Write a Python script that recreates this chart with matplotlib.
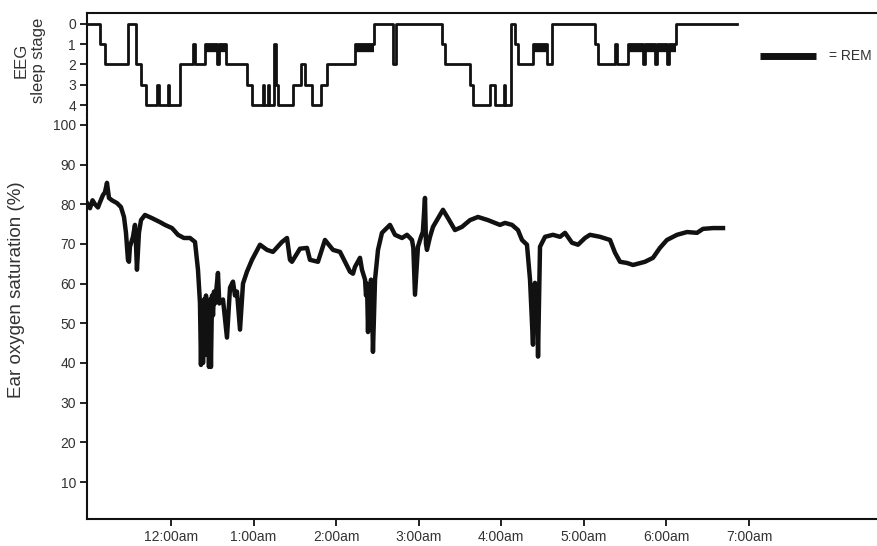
import matplotlib
matplotlib.use("Agg")
from matplotlib import pyplot
from matplotlib.lines import Line2D

pyplot.rcParams["font.family"] = ["Liberation Sans", "DejaVu Sans"]

# Hours relative to midnight
hour_ticks = [0, 1, 2, 3, 4, 5, 6, 7]
hour_labels = ["12:00am", "1:00am", "2:00am", "3:00am", "4:00am", "5:00am", "6:00am", "7:00am"]

# Hypnogram: stage changes (step function)
hyp_time = [-1.017, -0.86, -0.80, -0.52, -0.42, -0.36, -0.30, -0.17, -0.15, -0.04,
            -0.02, 0.11, 0.27, 0.29, 0.41, 0.56, 0.58, 0.67, 0.92, 0.98,
            1.11, 1.13, 1.17, 1.19, 1.25, 1.27, 1.30, 1.48, 1.58, 1.62,
            1.71, 1.82, 1.89, 2.23, 2.46, 2.69, 2.73, 3.28, 3.32, 3.62,
            3.66, 3.86, 3.92, 4.03, 4.05, 4.12, 4.17, 4.20, 4.38, 4.55,
            4.62, 5.13, 5.17, 5.38, 5.40, 5.53, 5.72, 5.74, 5.86, 5.88,
            6.01, 6.03, 6.12, 6.85]
hyp_stage = [0, 1, 2, 0, 2, 3, 4, 3, 4, 3,
             4, 2, 1, 2, 1, 2, 1, 2, 3, 4,
             3, 4, 3, 4, 1, 3, 4, 3, 2, 3,
             4, 3, 2, 1, 0, 2, 0, 1, 2, 3,
             4, 3, 4, 3, 4, 0, 1, 2, 1, 2,
             0, 1, 2, 1, 2, 1, 2, 1, 2, 1,
             2, 1, 0, 0]

# REM periods
rem_start = [0.41, 2.23, 4.38, 5.53]
rem_end = [0.67, 2.46, 4.55, 6.12]

# Ear oxygen saturation (%)
sat_time = [-1.017, -0.981, -0.95, -0.920, -0.884, -0.860, -0.824, -0.80, -0.775, -0.751,
            -0.715, -0.654, -0.606, -0.569, -0.545, -0.521, -0.509, -0.497, -0.460, -0.436,
            -0.424, -0.412, -0.388, -0.363, -0.315, -0.230, -0.133, -0.073, 0.012, 0.085,
            0.157, 0.230, 0.291, 0.327, 0.351, 0.363, 0.375, 0.388, 0.400, 0.412,
            0.424, 0.436, 0.448, 0.460, 0.472, 0.484, 0.497, 0.509, 0.521, 0.533,
            0.569, 0.585, 0.630, 0.678, 0.715, 0.751, 0.775, 0.799, 0.836, 0.872,
            0.920, 0.981, 1.078, 1.163, 1.235, 1.344, 1.405, 1.441, 1.465, 1.562,
            1.647, 1.683, 1.780, 1.865, 1.962, 2.047, 2.168, 2.204, 2.228, 2.289,
            2.313, 2.350, 2.362, 2.374, 2.386, 2.398, 2.410, 2.422, 2.434, 2.446,
            2.471, 2.507, 2.555, 2.652, 2.713, 2.798, 2.858, 2.919, 2.935, 2.955,
            2.991, 3.028, 3.050, 3.076, 3.088, 3.100, 3.137, 3.173, 3.294, 3.355,
            3.439, 3.524, 3.621, 3.718, 3.839, 3.984, 4.045, 4.130, 4.202, 4.251,
            4.311, 4.348, 4.384, 4.396, 4.408, 4.420, 4.433, 4.445, 4.469, 4.530,
            4.626, 4.711, 4.772, 4.856, 4.929, 5.014, 5.074, 5.195, 5.317, 5.377,
            5.438, 5.523, 5.595, 5.740, 5.837, 5.921, 6.006, 6.128, 6.249, 6.370,
            6.443, 6.564, 6.685]
sat_value = [80.3, 79.0, 81.0, 80.0, 79.2, 80.5, 82.3, 83.0, 85.4, 81.6,
             81.0, 80.3, 79.3, 76.8, 72.8, 66.0, 65.5, 69.3, 71.8, 74.8,
             70.0, 63.5, 72.8, 76.0, 77.3, 76.5, 75.5, 74.8, 74.0, 72.3,
             71.5, 71.5, 70.5, 63.5, 55.2, 39.5, 55.0, 40.0, 56.0, 42.0,
             57.0, 45.0, 55.0, 39.0, 56.0, 39.0, 57.0, 52.0, 58.0, 55.0,
             62.7, 55.0, 56.0, 46.4, 59.0, 60.5, 57.0, 58.0, 48.4, 60.0,
             63.0, 66.0, 69.8, 68.5, 68.0, 70.5, 71.5, 66.0, 65.5, 68.8,
             69.0, 66.0, 65.5, 71.0, 68.5, 68.0, 63.0, 62.5, 64.2, 66.5,
             63.5, 61.0, 57.0, 60.0, 47.8, 59.0, 55.0, 61.0, 56.0, 42.8,
             61.0, 68.5, 72.8, 74.8, 72.3, 71.5, 72.3, 71.0, 69.0, 57.2,
             69.3, 71.8, 73.0, 81.6, 70.0, 68.5, 71.8, 74.3, 78.6, 76.5,
             73.5, 74.3, 76.0, 76.8, 76.0, 74.8, 75.3, 74.8, 73.5, 71.0,
             69.8, 61.0, 44.6, 58.0, 60.2, 55.0, 58.0, 41.6, 69.3, 71.8,
             72.3, 71.8, 72.8, 70.3, 69.8, 71.5, 72.3, 71.8, 71.0, 67.8,
             65.5, 65.2, 64.7, 65.5, 66.5, 69.0, 71.0, 72.3, 73.0, 72.8,
             73.8, 74.0, 74.0]

INK = "#111111"
TEXT = "#333333"

figure = pyplot.figure(figsize=(8.77, 5.46), dpi=100)
ax_top = figure.add_axes([0.0992, 0.7894, 0.9008, 0.1868])
ax_sat = figure.add_axes([0.0992, 0.0489, 0.9008, 0.7405], sharex=ax_top)

# Sleep stages
ax_top.plot(hyp_time, hyp_stage, drawstyle="steps-post", color=INK, lw=2.0)
for s, e in zip(rem_start, rem_end):
    ax_top.hlines(1.2, s, e, color=INK, lw=6, capstyle="butt")
ax_top.set_ylim(4.49, -0.54)
ax_top.set_yticks([0, 1, 2, 3, 4])
ax_top.spines["right"].set_visible(False)
ax_top.spines["bottom"].set_visible(False)
ax_top.tick_params(axis="x", which="both", bottom=False, labelbottom=False)
ax_top.set_ylabel("EEG\nsleep stage", fontsize=12, color=TEXT, linespacing=1.15)
ax_top.yaxis.set_label_coords(-0.052, 0.54)

# Oxygen saturation
ax_sat.plot(sat_time, sat_value, color=INK, lw=3.2, solid_joinstyle="round")
ax_sat.set_ylim(0.6, 102.5)
ax_sat.set_yticks(range(10, 101, 10))
ax_sat.set_xlim(-1.017, 8.55)
ax_sat.set_xticks(hour_ticks)
ax_sat.set_xticklabels(hour_labels)
ax_sat.spines["right"].set_visible(False)
ax_sat.spines["top"].set_visible(False)
ax_sat.set_ylabel("Ear oxygen saturation (%)", fontsize=13.5, color=TEXT)
ax_sat.yaxis.set_label_coords(-0.079, 0.567)

for ax in (ax_top, ax_sat):
    for side in ("left", "top", "bottom"):
        ax.spines[side].set_linewidth(1.5)
        ax.spines[side].set_color(INK)
    ax.tick_params(direction="out", length=5, width=1.3, color=INK,
                   labelsize=10, labelcolor=TEXT, pad=3)

# REM key
figure.add_artist(Line2D([760 / 877, 816 / 877], [1 - 55.5 / 546] * 2,
                         color=INK, lw=5, solid_capstyle="butt"))
figure.text(829 / 877, 1 - 55.5 / 546, "= REM", fontsize=10, color=TEXT,
            va="center", ha="left")

pyplot.savefig("out.png", dpi=100)
